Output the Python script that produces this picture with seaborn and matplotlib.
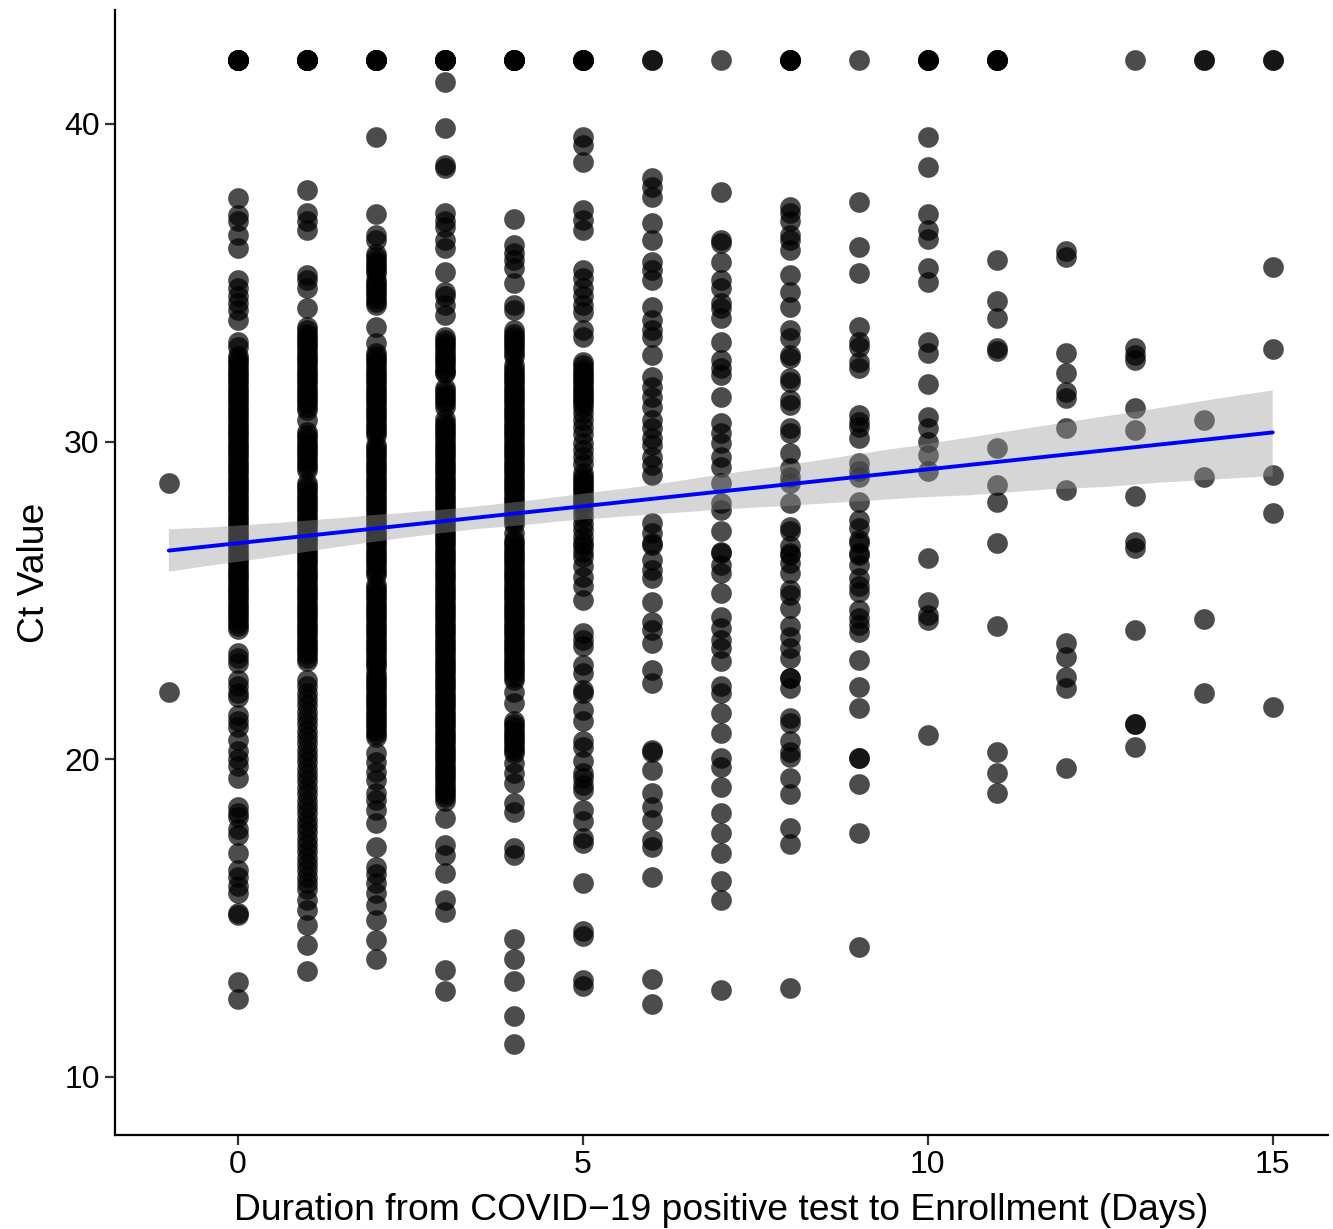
import numpy as np
import pandas as pd
import matplotlib
matplotlib.use("Agg")
import matplotlib.pyplot as plt
import seaborn as sns

# ---------------- data ----------------
days = [-1, 0, 1, 2, 3, 4, 5, 6, 7, 8, 9, 10, 11, 12, 13, 14, 15]

ct_day_m1 = [28.69, 22.13]

ct_day_0 = [42, 42, 42, 42, 42, 42, 42,
            37.66, 37.13, 36.93, 36.5, 36.09, 35.09, 34.83, 34.57, 34.36, 34.15, 33.83, 33.15, 32.99,
            32.7, 32.5, 32.3, 32.1, 31.9, 31.7, 31.5, 31.3, 31.1, 30.9, 30.7, 30.5, 30.3, 30.1,
            29.9, 29.7, 29.5, 29.3, 29.1, 28.9, 28.7, 28.5, 28.3, 28.1, 27.9, 27.7, 27.5, 27.3,
            27.1, 26.9, 26.7, 26.5, 26.3, 26.1, 25.9, 25.7, 25.5, 25.3, 25.1, 24.9, 24.7, 24.5,
            24.3, 24.1,
            32.6, 32.4, 32.2, 32.0, 31.8, 31.6, 31.4, 31.2, 31.0, 30.8, 30.6, 30.4, 30.2, 30.0,
            29.8, 29.6, 29.4, 29.2, 29.0, 28.8, 28.6, 28.4, 28.2, 28.0, 27.8, 27.6, 27.4, 27.2,
            27.0, 26.8, 26.6, 26.4, 26.2, 26.0, 25.8, 25.6, 25.4, 25.2, 25.0, 24.8, 24.6, 24.4,
            24.2,
            23.35, 23.2, 23.03, 22.5, 22.3, 22.1, 21.95, 21.4, 21.2, 21.0, 20.6, 20.25, 20.0, 19.8,
            19.41, 18.5, 18.3, 18.19, 17.8, 17.62, 17.05, 16.5, 16.3, 16.0, 15.8, 15.1, 15.15,
            13.0, 12.46]

ct_day_1 = [42, 42, 42, 42, 42, 42, 42,
            37.92, 37.19, 36.93, 36.66, 35.25, 35.09, 34.83, 34.2,
            33.6, 33.4, 33.2, 33.0, 32.8, 32.6, 32.4, 32.2, 32.0, 31.8, 31.6, 31.4, 31.2, 31.0,
            33.5, 33.3, 33.1, 32.9, 32.7, 32.5, 32.3, 32.1, 31.9, 31.7, 31.5, 31.3, 31.1,
            30.68, 30.3, 30.1, 29.9, 29.7, 29.5, 29.3, 29.1,
            30.2, 30.0, 29.8, 29.6, 29.4, 29.2,
            28.7, 28.5, 28.3, 28.1, 27.9, 27.7, 27.5, 27.3, 27.1, 26.9, 26.7, 26.5, 26.3, 26.1,
            25.9, 25.7, 25.5, 25.3, 25.1, 24.9, 24.7, 24.5, 24.3, 24.1, 23.9, 23.7, 23.5, 23.3,
            23.1,
            28.6, 28.4, 28.2, 28.0, 27.8, 27.6, 27.4, 27.2, 27.0, 26.8, 26.6, 26.4, 26.2, 26.0,
            25.8, 25.6, 25.4, 25.2, 25.0, 24.8, 24.6, 24.4, 24.2, 24.0, 23.8, 23.6, 23.4, 23.2,
            22.5, 22.3, 22.1, 21.9, 21.7, 21.5, 21.3, 21.1, 20.9, 20.7, 20.5, 20.3, 20.1, 19.9,
            19.7, 19.5, 19.3, 19.1, 18.9, 18.7, 18.5, 18.3, 18.1, 17.9, 17.7, 17.5, 17.3, 17.1,
            16.9, 16.7, 16.5, 16.3, 16.1, 15.9,
            15.57, 15.26, 14.79, 14.16, 13.34]

ct_day_2 = [42, 42, 42, 42, 42, 42, 42,
            39.6, 37.17, 36.5, 36.35, 35.9, 35.7, 35.5, 35.3, 35.1, 34.9, 34.7, 34.5, 34.3,
            35.8, 35.6, 35.4, 35.0, 34.8, 34.6, 34.4,
            33.62, 33.1,
            32.8, 32.6, 32.4, 32.2, 32.0, 31.8, 31.6, 31.4, 31.2, 31.0, 30.8, 30.6, 30.4, 30.2,
            32.7, 32.5, 32.3, 32.1, 31.9, 31.7, 31.5, 31.3, 31.1, 30.9, 30.7, 30.5, 30.3,
            29.8, 29.6, 29.4, 29.2, 29.0, 28.8, 28.6, 28.4, 28.2, 28.0, 27.8, 27.6, 27.4, 27.2,
            27.0, 26.8, 26.6, 26.4, 26.2, 26.0, 25.8,
            29.9, 29.7, 29.5, 29.3, 29.1, 28.9, 28.7, 28.5, 28.3, 28.1, 27.9, 27.7, 27.5, 27.3,
            27.1, 26.9, 26.7, 26.5, 26.3, 26.1, 25.9,
            25.5, 25.3, 25.1, 24.9, 24.7, 24.5, 24.3, 24.1, 23.9, 23.7, 23.5, 23.3, 23.1, 22.9,
            25.4, 25.2, 25.0, 24.8, 24.6, 24.4, 24.2, 24.0, 23.8, 23.6, 23.4, 23.2, 23.0,
            22.7, 22.5, 22.3, 22.1, 21.9, 21.7, 21.5, 21.3, 21.1, 20.9, 20.7,
            22.6, 22.4, 22.2, 22.0, 21.8, 21.6, 21.4, 21.2, 21.0, 20.8,
            20.2, 19.9, 19.6, 19.35, 18.94, 18.72, 18.41, 17.99, 17.25, 16.6, 16.4, 16.1, 15.8,
            15.42, 14.94, 14.32, 13.72]

ct_day_3 = [42, 42, 42, 42, 42, 42, 42,
            41.33, 39.86, 38.71, 38.6, 37.19, 36.93, 36.77, 36.35, 36.09, 35.35, 34.72, 34.57,
            34.3, 33.99,
            33.3, 33.1, 32.9, 32.7, 32.5, 32.3, 32.15, 31.7, 31.5, 31.3, 31.1,
            33.2, 33.0, 32.8, 32.6, 32.4, 32.2, 31.6, 31.4, 31.2,
            30.7, 30.5, 30.3, 30.1, 29.9, 29.7, 29.5, 29.3, 29.1, 28.9, 28.7, 28.5, 28.3, 28.1,
            27.9, 27.7, 27.5, 27.3, 27.1, 26.9, 26.7, 26.5, 26.3, 26.1, 25.9, 25.7, 25.5, 25.3,
            25.1, 24.9, 24.7, 24.5, 24.3, 24.1, 23.9, 23.7, 23.5, 23.3, 23.1, 22.9, 22.7, 22.5,
            22.3, 22.1, 21.9, 21.7, 21.5, 21.3, 21.1, 20.9, 20.7, 20.5, 20.3, 20.1, 19.9, 19.7,
            19.5, 19.3, 19.1, 18.9, 18.7,
            30.6, 30.4, 30.2, 30.0, 29.8, 29.6, 29.4, 29.2, 29.0, 28.8, 28.6, 28.4, 28.2, 28.0,
            27.8, 27.6, 27.4, 27.2, 27.0, 26.8, 26.6, 26.4, 26.2, 26.0, 25.8, 25.6, 25.4, 25.2,
            25.0, 24.8, 24.6, 24.4, 24.2, 24.0, 23.8, 23.6, 23.4, 23.2, 23.0, 22.8, 22.6, 22.4,
            22.2, 22.0, 21.8, 21.6, 21.4, 21.2, 21.0, 20.8, 20.6, 20.4, 20.2, 20.0, 19.8, 19.6,
            19.4, 19.2, 19.0, 18.8,
            18.15, 17.3, 16.99, 16.42, 15.57, 15.2, 13.37, 12.69]

ct_day_4 = [42, 42, 42, 42, 42, 42,
            37.01, 36.19, 35.93, 35.72, 35.46, 34.99, 34.3, 34.15,
            33.5, 33.3, 33.1, 32.9, 32.7, 32.4, 32.2, 32.0, 31.8, 31.6, 31.4, 31.2, 31.0,
            33.4, 33.2, 33.0, 32.8, 32.3, 32.1, 31.9, 31.7, 31.5, 31.3, 31.1,
            30.8, 30.6, 30.4, 30.2, 30.0, 29.8, 29.6, 29.4, 29.2, 29.0, 28.8, 28.6, 28.4, 28.2,
            28.0, 27.8, 27.6, 27.4, 27.12,
            30.9, 30.7, 30.5, 30.3, 30.1, 29.9, 29.7, 29.5, 29.3, 29.1, 28.9, 28.7, 28.5, 28.3,
            28.1, 27.9, 27.7, 27.5,
            26.9, 26.7, 26.5, 26.3, 26.1, 25.9, 25.7, 25.5, 25.3, 25.1, 24.9, 24.7, 24.5, 24.3,
            24.1, 23.9, 23.7, 23.5, 23.3, 23.1, 22.9, 22.7, 22.5,
            26.8, 26.6, 26.4, 26.2, 26.0, 25.8, 25.6, 25.4, 25.2, 25.0, 24.8, 24.6, 24.4, 24.2,
            24.0, 23.8, 23.6, 23.4, 23.2, 23.0, 22.8, 22.6,
            22.13, 21.77, 21.2, 21.0, 20.8, 20.6, 20.4, 20.2, 21.1, 20.9, 20.7, 20.5, 20.3,
            19.88, 19.56, 19.25, 18.62, 18.35,
            17.2, 16.99, 14.35, 13.71, 13.03, 11.93, 11.04]

ct_day_5 = [42, 42, 42, 42, 42,
            39.6, 39.34, 38.81, 37.29, 36.98, 36.66, 35.4, 35.14, 34.83, 34.57, 34.3, 34.09,
            33.52, 33.3,
            32.5, 32.3, 32.1, 31.9, 31.7, 31.5, 31.3, 31.1, 30.9, 30.68, 30.47, 30.25, 29.95,
            32.4, 32.2, 32.0, 31.8, 31.6, 31.4, 31.2,
            29.74, 29.53, 29.3, 29.0, 28.8, 28.6, 28.4, 28.2, 28.0, 27.8, 27.64, 27.4, 27.22,
            28.9, 28.7, 28.5, 28.3, 28.1,
            27.0, 26.8, 26.7, 26.54, 26.38, 26.07, 25.75, 25.44, 25.02,
            23.97, 23.76, 23.55, 22.97, 22.71, 22.18, 22.08, 21.55, 21.19, 20.56, 20.4, 19.93,
            19.56, 19.4, 19.2, 19.04, 18.41, 18.04, 17.52, 17.36, 16.1, 14.58, 14.42, 13.06,
            12.85]

ct_day_6 = [42, 42,
            38.29, 38.03, 37.71, 36.87, 36.35, 35.67, 35.4, 35.09, 34.25, 33.83, 33.52, 33.3,
            32.73, 32.04, 31.73, 31.42, 31.1, 30.68, 30.42, 30.1, 29.9, 29.53, 29.27, 28.95,
            27.43, 27.12, 26.8, 26.75, 26.28, 25.96, 25.7, 24.96, 24.33, 24.07, 23.65, 22.81,
            22.39, 20.3, 20.24, 19.67, 18.93, 18.51, 18.09, 17.46, 17.25, 16.28, 13.08, 12.3]

ct_day_7 = [42,
            37.87, 36.35, 36.24, 35.67, 35.09, 34.83, 34.36, 34.2, 33.88, 33.15, 32.57, 32.31,
            32.1, 31.42, 30.58, 30.26, 29.95, 29.53, 29.21, 28.69, 28.06, 27.85, 27.17, 26.54,
            26.49, 26.12, 25.86, 25.23, 24.49, 24.13, 23.76, 23.5, 23.08, 22.29, 22.08, 21.45,
            20.82, 20.03, 19.77, 19.14, 18.3, 17.67, 17.04, 16.18, 15.57, 12.74]

ct_day_8 = [42, 42, 42, 42,
            37.4, 37.19, 36.93, 36.51, 36.35, 36.03, 35.25, 34.72, 34.25, 33.52, 33.25, 32.73,
            32.62, 31.99, 31.89, 31.31, 31.16, 30.42, 30.26, 29.63, 29.16, 28.9, 28.69, 28.06,
            27.32, 27.17, 26.7, 26.43, 26.49, 26.17, 25.86, 25.33, 25.17, 24.76, 24.18, 23.86,
            23.5, 23.18, 22.55, 22.55, 22.24, 21.3, 21.14, 20.56, 20.24, 20.08, 19.4, 18.91,
            17.83, 17.34, 12.79]

ct_day_9 = [42,
            37.53, 36.14, 35.3, 33.6, 33.15, 32.99, 32.52, 32.31, 30.84, 30.63, 30.47, 30.1,
            29.32, 29.06, 28.9, 28.11, 27.54, 27.27, 26.91, 26.49, 26.8, 26.43, 26.12, 25.7,
            25.44, 25.28, 24.7, 24.44, 24.23, 24.02, 23.13, 22.26, 21.61, 20.03, 20.03, 19.23,
            17.67, 14.1]

ct_day_10 = [42, 42, 42, 42,
             39.6, 38.66, 37.16, 36.66, 36.37, 35.48, 35.04, 33.15, 32.78, 31.81, 30.79,
             30.42, 30.0, 29.58, 29.06, 26.32, 24.96, 24.55, 24.39, 20.77]

ct_day_11 = [42, 42, 42, 42,
             35.72, 34.43, 33.88, 32.94, 32.86, 29.79, 28.64, 28.11, 26.8, 24.2, 20.22, 19.56,
             18.93]

ct_day_12 = [36.01, 35.82, 32.78, 32.15, 31.57, 31.37, 30.42, 28.48, 23.65, 23.21, 22.6,
             22.24, 19.72]

ct_day_13 = [42,
             32.94, 32.73, 32.57, 31.07, 30.37, 28.29, 26.85, 26.64, 24.07, 21.11, 21.11, 20.38]

ct_day_14 = [42, 42, 30.68, 28.9, 24.42, 22.1]

ct_day_15 = [42, 42, 35.49, 32.92, 28.95, 27.74, 21.64]

ct_by_day = [ct_day_m1, ct_day_0, ct_day_1, ct_day_2, ct_day_3, ct_day_4, ct_day_5,
             ct_day_6, ct_day_7, ct_day_8, ct_day_9, ct_day_10, ct_day_11, ct_day_12,
             ct_day_13, ct_day_14, ct_day_15]

x_ticks = [0, 5, 10, 15]
y_ticks = [10, 20, 30, 40]
x_label = "Duration from COVID\u221219 positive test to Enrollment (Days)"
y_label = "Ct Value"

rows = []
for d, vals in zip(days, ct_by_day):
    for v in vals:
        rows.append((d, v))
df = pd.DataFrame(rows, columns=["days", "ct"])

# ---------------- plot ----------------
sns.set_theme(style="ticks")
plt.rcParams["font.family"] = ["Liberation Sans", "DejaVu Sans"]

fig = plt.figure(figsize=(13.33, 12.29), dpi=100)
ax = fig.add_axes([0.0863, 0.0765, 0.9099, 0.9154])

sns.scatterplot(data=df, x="days", y="ct", ax=ax, color="black", alpha=0.7,
                s=222, linewidth=0, zorder=2)
sns.regplot(data=df, x="days", y="ct", ax=ax, scatter=False, ci=95,
            line_kws=dict(color="#0000ff", linewidth=2.8, zorder=4))

# grey ribbon over the points, like ggplot's geom_smooth
for coll in ax.collections[1:]:
    coll.set_facecolor("#999999")
    coll.set_alpha(0.4)
    coll.set_edgecolor("none")
    coll.set_zorder(3)

ax.set_xlim(-1.78, 15.8)
ax.set_ylim(8.17, 43.59)
ax.set_xticks(x_ticks)
ax.set_yticks(y_ticks)
ax.set_xlabel(x_label, fontsize=26.8, color="black", labelpad=9)
ax.set_ylabel(y_label, fontsize=26.8, color="black", labelpad=9)
ax.tick_params(axis="both", labelsize=23, labelcolor="black", color="#333333",
               length=7, width=1.6, pad=4)
for side in ["top", "right"]:
    ax.spines[side].set_visible(False)
for side in ["left", "bottom"]:
    ax.spines[side].set_color("black")
    ax.spines[side].set_linewidth(1.6)
ax.grid(False)
ax.set_facecolor("white")
fig.patch.set_facecolor("white")

fig.savefig("out.png", dpi=100, facecolor="white")
